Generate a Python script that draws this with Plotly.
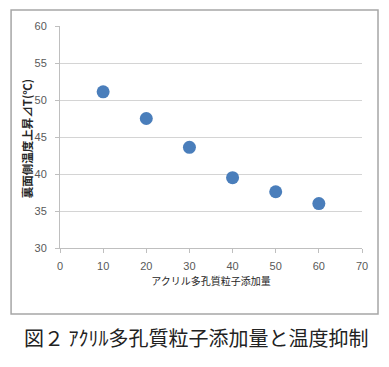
import plotly.graph_objects as go

x_vals = [10, 20, 30, 40, 50, 60]
y_vals = [51.1, 47.5, 43.6, 39.5, 37.6, 36.0]
x_ticks = [0, 10, 20, 30, 40, 50, 60, 70]
y_ticks = [30, 35, 40, 45, 50, 55, 60]
x_title = "アクリル多孔質粒子添加量"
y_title = "裏面側温度上昇⊿T(℃)"
caption = "図２ ｱｸﾘﾙ多孔質粒子添加量と温度抑制"

fig = go.Figure()
fig.add_trace(go.Scatter(
    x=x_vals, y=y_vals, mode="markers",
    marker=dict(size=13, color="#4a7ebb"),
    showlegend=False,
))

axis_font = dict(family="Liberation Sans Narrow, Liberation Sans, Arial", size=11, color="#595959")
fig.update_layout(
    width=373, height=351,
    margin=dict(l=52, r=19, t=18, b=111),
    paper_bgcolor="white", plot_bgcolor="white",
    xaxis=dict(range=[0, 70], tickvals=x_ticks, showgrid=False, zeroline=False,
               showline=True, linecolor="#bfbfbf", ticks="outside", ticklen=4,
               tickcolor="#bfbfbf", tickfont=axis_font, ticklabelstandoff=4,
               title=dict(text=x_title, font=dict(family="Noto Sans CJK JP", size=10, color="#262626"), standoff=6)),
    yaxis=dict(range=[30, 60], tickvals=y_ticks, showgrid=True, gridcolor="#d4d4d4",
               zeroline=False, showline=True, linecolor="#bfbfbf", ticks="outside",
               ticklen=4, tickcolor="#bfbfbf", tickfont=axis_font, ticklabelstandoff=6),
    shapes=[dict(type="rect", xref="paper", yref="paper",
                 x0=-0.162, x1=1.053, y0=-0.297, y1=1.072,
                 line=dict(color="#a6a6a6", width=1.5), layer="below")],
    annotations=[
        dict(text="<b>" + y_title + "</b>", xref="paper", yref="paper", x=-0.109, y=0.49,
             xanchor="center", yanchor="middle", showarrow=False, textangle=-90,
             font=dict(family="Noto Sans CJK JP", size=11.5, color="#262626")),
        dict(text=caption, xref="paper", yref="paper", x=0.45, y=-0.405,
             xanchor="center", yanchor="middle", showarrow=False,
             font=dict(family="Noto Sans CJK JP", size=20, color="#222222")),
    ],
)

fig.write_html("out.html")
